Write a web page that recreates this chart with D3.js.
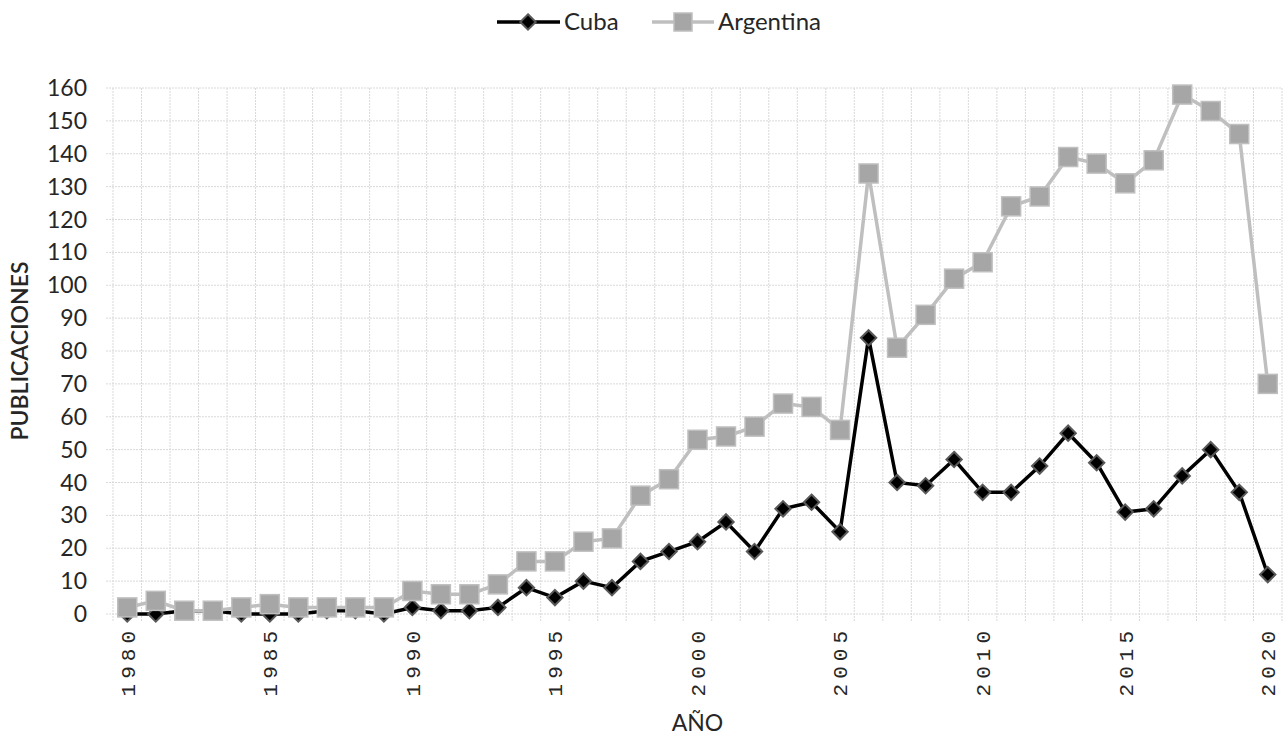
<!DOCTYPE html>
<html>
<head>
<meta charset="utf-8">
<script src="https://cdn.jsdelivr.net/npm/d3@7"></script>
<style>
  body { margin: 0; background: #fff; }
  text { font-family: Lato, "Liberation Sans", sans-serif; fill: #262626; }
</style>
</head>
<body>
<div id="chart"></div>
<script>
// data
const years = d3.range(1980, 2021);
const cuba = [0, 0, 1, 1, 0, 0, 0, 1, 1, 0,
              2, 1, 1, 2, 8, 5, 10, 8, 16, 19,
              22, 28, 19, 32, 34, 25, 84, 40, 39, 47,
              37, 37, 45, 55, 46, 31, 32, 42, 50, 37, 12];
const argentina = [2, 4, 1, 1, 2, 3, 2, 2, 2, 2,
                   7, 6, 6, 9, 16, 16, 22, 23, 36, 41,
                   53, 54, 57, 64, 63, 56, 134, 81, 91, 102,
                   107, 124, 127, 139, 137, 131, 138, 158, 153, 146, 70];
const yTicks = d3.range(0, 161, 10);
const xLabels = [1980, 1985, 1990, 1995, 2000, 2005, 2010, 2015, 2020];

const width = 1288, height = 735;
const margin = {top: 88, right: 6, bottom: 121, left: 113};

const svg = d3.select("#chart").append("svg")
    .attr("width", width)
    .attr("height", height);

const x = d3.scaleLinear()
    .domain([1979.5, 2020.5])
    .range([margin.left, width - margin.right]);
const y = d3.scaleLinear()
    .domain([0, 160])
    .range([height - margin.bottom, margin.top]);

// horizontal grid
svg.append("g").selectAll("line")
    .data(yTicks)
    .enter().append("line")
    .attr("x1", margin.left - 7)
    .attr("x2", width - margin.right)
    .attr("y1", d => y(d))
    .attr("y2", d => y(d))
    .attr("stroke", "#d9d9d9")
    .attr("stroke-dasharray", "2,1");

// vertical grid (category boundaries) with ticks below axis
const bounds = d3.range(1979.5, 2021, 1);
svg.append("g").selectAll("line")
    .data(bounds)
    .enter().append("line")
    .attr("x1", d => x(d))
    .attr("x2", d => x(d))
    .attr("y1", y(160))
    .attr("y2", y(0) + 8)
    .attr("stroke", "#d9d9d9")
    .attr("stroke-dasharray", "2,1");

// y labels
svg.append("g").selectAll("text")
    .data(yTicks)
    .enter().append("text")
    .attr("x", 87)
    .attr("y", d => y(d))
    .attr("dy", "0.35em")
    .attr("text-anchor", "end")
    .style("font-size", "23px")
    .text(d => d);

// x labels, rotated
svg.append("g").selectAll("text")
    .data(xLabels)
    .enter().append("text")
    .attr("transform", d => `translate(${x(d)},${y(0) + 12}) rotate(-90)`)
    .attr("dy", "0.35em")
    .attr("text-anchor", "end")
    .style("font-family", "'Liberation Mono', monospace")
    .style("font-size", "21px")
    .style("letter-spacing", "5px")
    .text(d => d);

// axis titles
svg.append("text")
    .attr("transform", `translate(28,${(y(0) + y(160)) / 2}) rotate(-90)`)
    .attr("text-anchor", "middle")
    .style("font-size", "23px")
    .style("font-weight", "600")
    .text("PUBLICACIONES");

svg.append("text")
    .attr("x", (margin.left + width - margin.right) / 2)
    .attr("y", 731)
    .attr("text-anchor", "middle")
    .style("font-size", "23px")
    .text("AÑO");

// lines
const line = d3.line()
    .x((d, i) => x(years[i]))
    .y(d => y(d));

const diamond = d3.symbol().type(d3.symbolDiamond2).size(150);

// Cuba first, Argentina drawn on top
svg.append("path")
    .datum(cuba)
    .attr("d", line)
    .attr("fill", "none")
    .attr("stroke", "#000")
    .attr("stroke-width", 3.5);

svg.append("g").selectAll("path")
    .data(cuba)
    .enter().append("path")
    .attr("d", diamond)
    .attr("transform", (d, i) => `translate(${x(years[i])},${y(d)})`)
    .attr("fill", "#000")
    .attr("stroke", "#595959")
    .attr("stroke-width", 2);

svg.append("path")
    .datum(argentina)
    .attr("d", line)
    .attr("fill", "none")
    .attr("stroke", "#bfbfbf")
    .attr("stroke-width", 3.5);

svg.append("g").selectAll("rect")
    .data(argentina)
    .enter().append("rect")
    .attr("x", (d, i) => x(years[i]) - 9.5)
    .attr("y", d => y(d) - 9.5)
    .attr("width", 19)
    .attr("height", 19)
    .attr("fill", "#a6a6a6")
    .attr("stroke", "#bfbfbf")
    .attr("stroke-width", 1.5);

// legend
const legend = svg.append("g");
legend.append("line")
    .attr("x1", 497).attr("x2", 560)
    .attr("y1", 22).attr("y2", 22)
    .attr("stroke", "#000").attr("stroke-width", 3.5);
legend.append("path")
    .attr("d", diamond)
    .attr("transform", "translate(528,22)")
    .attr("fill", "#000")
    .attr("stroke", "#595959")
    .attr("stroke-width", 2);
legend.append("text")
    .attr("x", 564).attr("y", 22)
    .attr("dy", "0.35em")
    .style("font-size", "24px")
    .text("Cuba");

legend.append("line")
    .attr("x1", 652).attr("x2", 714)
    .attr("y1", 22).attr("y2", 22)
    .attr("stroke", "#bfbfbf").attr("stroke-width", 3.5);
legend.append("rect")
    .attr("x", 674).attr("y", 13)
    .attr("width", 18).attr("height", 18)
    .attr("fill", "#a6a6a6")
    .attr("stroke", "#bfbfbf")
    .attr("stroke-width", 1.5);
legend.append("text")
    .attr("x", 718).attr("y", 22)
    .attr("dy", "0.35em")
    .style("font-size", "24px")
    .text("Argentina");
</script>
</body>
</html>
